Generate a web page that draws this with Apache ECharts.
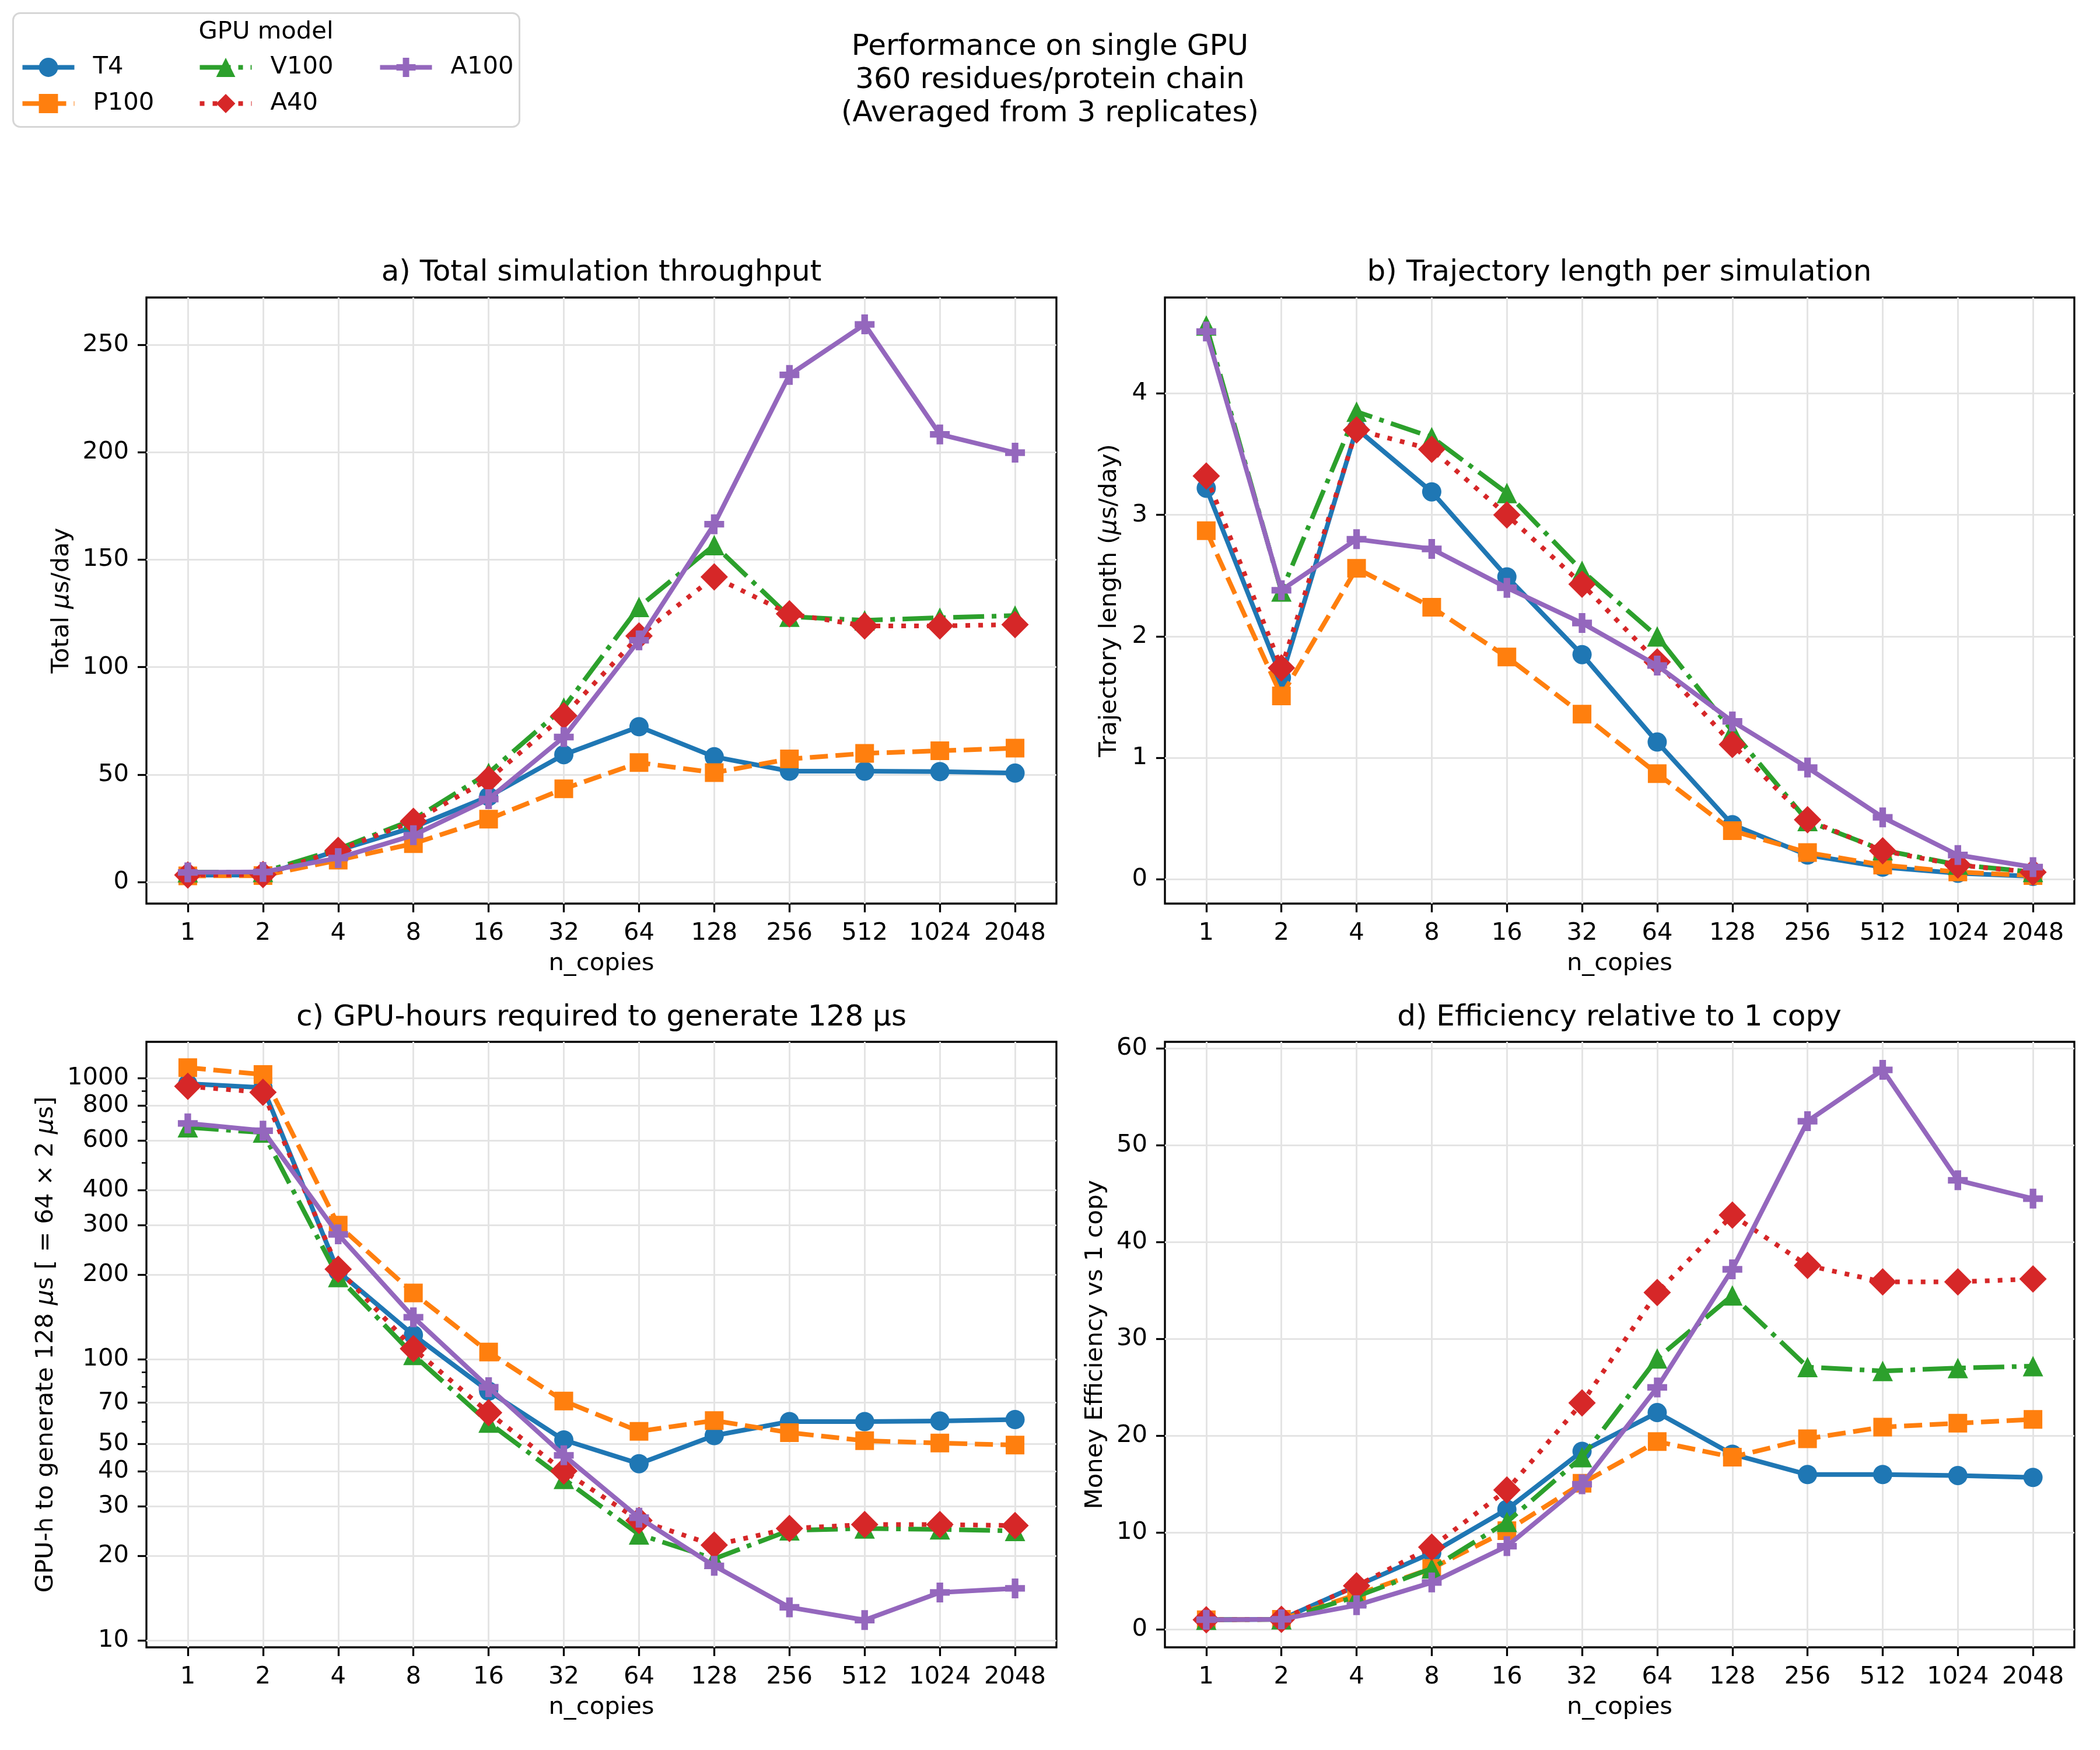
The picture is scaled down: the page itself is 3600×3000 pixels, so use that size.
<!DOCTYPE html>
<html>
<head>
<meta charset="utf-8">
<script src="https://cdn.jsdelivr.net/npm/echarts@6/dist/echarts.min.js"></script>
<style>
  html, body { margin: 0; padding: 0; background: #fff; }
  #chart { width: 3600px; height: 3000px; }
</style>
</head>
<body>
<div id="chart"></div>
<script>
// n_copies categories (x tick labels)
const copies = ['1', '2', '4', '8', '16', '32', '64', '128', '256', '512', '1024', '2048'];
const gpus = ['T4', 'P100', 'V100', 'A40', 'A100'];

// a) Total simulation throughput (us/day)
const t4A   = [3.2, 3.3, 14.8, 25.5, 39.8, 59.3, 72.3, 58.3, 51.6, 51.6, 51.4, 50.7];
const p100A = [2.9, 3.0, 10.2, 17.9, 29.3, 43.4, 55.6, 50.9, 57.3, 59.9, 61.1, 62.3];
const v100A = [4.6, 4.7, 15.4, 29.1, 50.8, 81.2, 128.0, 156.8, 123.5, 121.8, 123.0, 124.0];
const a40A  = [3.3, 3.5, 14.8, 28.3, 47.8, 77.4, 114.5, 142.0, 124.8, 119.2, 119.2, 119.8];
const a100A = [4.5, 4.7, 11.2, 21.8, 38.6, 67.5, 112.5, 166.5, 236.0, 259.5, 208.3, 199.8];

// b) Trajectory length per simulation (us/day)
const t4B   = [3.22, 1.66, 3.71, 3.19, 2.49, 1.85, 1.13, 0.45, 0.20, 0.10, 0.05, 0.025];
const p100B = [2.87, 1.51, 2.56, 2.24, 1.83, 1.36, 0.87, 0.40, 0.22, 0.117, 0.06, 0.03];
const v100B = [4.56, 2.37, 3.85, 3.64, 3.18, 2.54, 2.00, 1.22, 0.48, 0.24, 0.12, 0.06];
const a40B  = [3.32, 1.74, 3.70, 3.54, 3.00, 2.43, 1.79, 1.11, 0.49, 0.235, 0.117, 0.058];
const a100B = [4.51, 2.38, 2.80, 2.72, 2.40, 2.11, 1.76, 1.30, 0.92, 0.51, 0.20, 0.10];

// c) GPU-hours required to generate 128 us
const t4C   = [955, 925, 205, 122, 77, 51.6, 42.5, 53.5, 60, 60, 60.3, 61];
const p100C = [1090, 1030, 300, 172, 106, 71, 55.4, 60.5, 54.8, 51.3, 50.3, 49.5];
const v100C = [668, 640, 196, 103.5, 59.5, 37.5, 23.8, 19.5, 24.6, 25, 24.8, 24.5];
const a40C  = [935, 890, 209, 109, 64.5, 40, 26.7, 21.8, 25, 25.8, 25.8, 25.6];
const a100C = [690, 650, 278, 141, 79.5, 45.5, 27.3, 18.4, 13.1, 11.8, 14.8, 15.3];

// d) Efficiency relative to 1 copy
const t4D   = [1.0, 1.05, 4.5, 7.9, 12.4, 18.4, 22.4, 18.1, 16.0, 16.0, 15.9, 15.7];
const p100D = [1.0, 1.05, 3.6, 6.3, 10.2, 15.1, 19.4, 17.8, 19.7, 20.9, 21.3, 21.7];
const v100D = [1.0, 1.05, 3.4, 6.3, 11.1, 17.8, 28.0, 34.5, 27.1, 26.7, 27.0, 27.2];
const a40D  = [1.0, 1.05, 4.5, 8.5, 14.4, 23.4, 34.8, 42.8, 37.6, 35.9, 35.9, 36.2];
const a100D = [1.0, 1.05, 2.5, 4.85, 8.6, 15.0, 25.0, 37.2, 52.5, 57.8, 46.4, 44.5];

// tick values
const xTicks = copies.map((c, i) => i);
const yTicksA = [0, 50, 100, 150, 200, 250];
const yTicksB = [0, 1, 2, 3, 4];
const yTicksC = [10, 20, 30, 40, 50, 70, 100, 200, 300, 400, 600, 800, 1000];
const yMinorC = [60, 80, 90, 500, 700, 900];
const yTicksD = [0, 10, 20, 30, 40, 50, 60];

const FONT = 'DejaVu Sans';
const FS = 41.7;
const GRIDC = '#e4e4e4';
const PLUS = 'path://M2,0L4,0L4,2L6,2L6,4L4,4L4,6L2,6L2,4L0,4L0,2L2,2Z';

const styles = [
  { color: '#1f77b4', type: 'solid', symbol: 'circle', size: 33 },
  { color: '#ff7f0e', type: [31, 13], symbol: 'rect', size: 32 },
  { color: '#2ca02c', type: [53, 13, 8, 13], symbol: 'triangle', size: 35 },
  { color: '#d62728', type: [8, 14], symbol: 'diamond', size: 47 },
  { color: '#9467bd', type: 'solid', symbol: PLUS, size: 34 },
];

const chart = echarts.init(document.getElementById('chart'));

const grids = [
  { left: 251, top: 510, width: 1560, height: 1039 },
  { left: 1997, top: 510, width: 1559, height: 1039 },
  { left: 251, top: 1786, width: 1560, height: 1038 },
  { left: 1997, top: 1786, width: 1559, height: 1038 },
].map(g => Object.assign(g, {
  show: true, borderColor: '#000', borderWidth: 3.3,
  backgroundColor: 'transparent', outerBoundsMode: 'none'
}));

const nameStyle = {
  fontSize: FS, color: '#000', fontFamily: FONT,
  rich: { i: { fontSize: FS, fontFamily: FONT, fontStyle: 'italic', color: '#000' } }
};

function xAxisFor(gi) {
  return {
    type: 'value', gridIndex: gi, min: -0.55, max: 11.55,
    name: 'n_copies', nameLocation: 'middle', nameGap: 82, nameTextStyle: nameStyle,
    axisLine: { show: false, onZero: false },
    axisTick: { show: true, customValues: xTicks, length: 15, lineStyle: { color: '#000', width: 3.3 } },
    axisLabel: {
      customValues: xTicks, formatter: v => copies[Math.round(v)], margin: 30,
      fontSize: FS, color: '#000', fontFamily: FONT
    },
    splitLine: { show: true, lineStyle: { color: GRIDC, width: 3 } }
  };
}

function yAxisFor(gi, type, min, max, ticks, name, gap) {
  return {
    type: type, gridIndex: gi, min: min, max: max,
    name: name, nameLocation: 'middle', nameGap: gap, nameTextStyle: nameStyle,
    axisLine: { show: false, onZero: false },
    axisTick: { show: true, customValues: ticks, length: 15, lineStyle: { color: '#000', width: 3.3 } },
    axisLabel: {
      customValues: ticks, formatter: v => String(Math.round(v * 100) / 100), margin: 30,
      fontSize: FS, color: '#000', fontFamily: FONT
    },
    splitLine: { show: true, lineStyle: { color: GRIDC, width: 3 } }
  };
}

const yAxes = [
  yAxisFor(0, 'value', -10, 272, yTicksA, 'Total {i|μ}s/day', 124),
  yAxisFor(1, 'value', -0.2, 4.79, yTicksB, 'Trajectory length ({i|μ}s/day)', 74),
  yAxisFor(2, 'log', 9.44, 1346, yTicksC, 'GPU-h to generate 128 {i|μ}s [ = 64 × 2 {i|μ}s]', 151),
  {
    type: 'log', gridIndex: 2, min: 9.44, max: 1346, position: 'left',
    axisLine: { show: false, onZero: false },
    axisTick: { show: true, customValues: yMinorC, length: 8, lineStyle: { color: '#000', width: 2.5 } },
    axisLabel: { show: false },
    splitLine: { show: false }
  },
  yAxisFor(3, 'value', -1.85, 60.7, yTicksD, 'Money Efficiency vs 1 copy', 98),
];

const panelData = [
  [t4A, p100A, v100A, a40A, a100A],
  [t4B, p100B, v100B, a40B, a100B],
  [t4C, p100C, v100C, a40C, a100C],
  [t4D, p100D, v100D, a40D, a100D],
];
const yIndex = [0, 1, 2, 4];

const series = [];
panelData.forEach((vals, p) => {
  vals.forEach((arr, g) => {
    const s = styles[g];
    series.push({
      type: 'line', name: gpus[g],
      xAxisIndex: p, yAxisIndex: yIndex[p],
      data: arr.map((v, i) => [i, v]),
      symbol: s.symbol, symbolSize: s.size,
      z: 10 + g,
      lineStyle: { color: s.color, width: 8, type: s.type, cap: 'butt', join: 'round' },
      itemStyle: { color: s.color },
      emphasis: { disabled: true }
    });
  });
});

function legendCol(names, left) {
  return {
    data: names, orient: 'vertical', left: left, top: 94.5, padding: 0,
    itemWidth: 89, itemHeight: 41, itemGap: 20,
    lineStyle: { width: 8 },
    textStyle: { fontSize: FS, color: '#000', fontFamily: FONT, padding: [0, 0, 0, 27] },
    selectedMode: false
  };
}

const titleStyle = { fontSize: 50, fontWeight: 'normal', color: '#000', fontFamily: FONT };

chart.setOption({
  animation: false,
  backgroundColor: '#fff',
  title: [
    { text: 'Performance on single GPU\n360 residues/protein chain\n(Averaged from 3 replicates)',
      left: 1800, top: 138, textAlign: 'center', textVerticalAlign: 'middle', padding: 0,
      textStyle: Object.assign({ lineHeight: 57 }, titleStyle) },
    { text: 'a) Total simulation throughput', left: 1031, top: 468, textAlign: 'center',
      textVerticalAlign: 'middle', padding: 0, textStyle: titleStyle },
    { text: 'b) Trajectory length per simulation', left: 2776, top: 468, textAlign: 'center',
      textVerticalAlign: 'middle', padding: 0, textStyle: titleStyle },
    { text: 'c) GPU-hours required to generate 128 µs', left: 1031, top: 1745, textAlign: 'center',
      textVerticalAlign: 'middle', padding: 0, textStyle: titleStyle },
    { text: 'd) Efficiency relative to 1 copy', left: 2776, top: 1745, textAlign: 'center',
      textVerticalAlign: 'middle', padding: 0, textStyle: titleStyle },
    { text: 'GPU model', left: 456, top: 55, textAlign: 'center', textVerticalAlign: 'middle', padding: 0,
      textStyle: { fontSize: FS, fontWeight: 'normal', color: '#000', fontFamily: FONT } }
  ],
  graphic: [
    { type: 'rect', left: 21, top: 21, z: 0,
      shape: { width: 868, height: 195, r: 12 },
      style: { fill: '#fff', stroke: '#d6d6d6', lineWidth: 3 } }
  ],
  legend: [
    legendCol(['T4', 'P100'], 34.5),
    legendCol(['V100', 'A40'], 338.5),
    legendCol(['A100'], 647.5)
  ],
  grid: grids,
  xAxis: [xAxisFor(0), xAxisFor(1), xAxisFor(2), xAxisFor(3)],
  yAxis: yAxes,
  series: series
});
</script>
</body>
</html>
